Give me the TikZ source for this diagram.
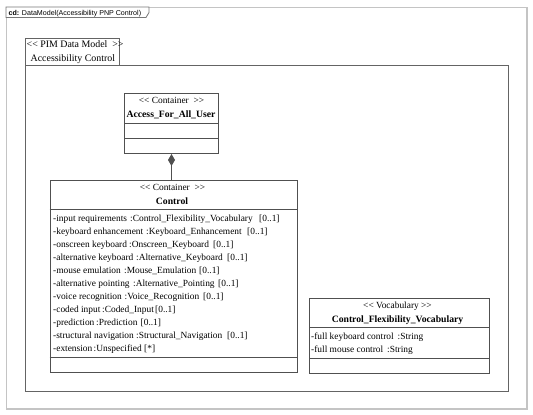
\documentclass[tikz,border=0pt]{standalone}
\usepackage{fontspec}
\setmainfont{Liberation Serif}
\setsansfont{Liberation Sans}
\usetikzlibrary{arrows.meta}
\definecolor{boxgray}{RGB}{80,80,80}
\definecolor{pkggray}{RGB}{100,100,100}
\definecolor{framegray}{RGB}{196,196,196}
\definecolor{tabgray}{RGB}{120,120,120}
\newcommand\stopen{<\kern0pt<}
\newcommand\stclose{>\kern0pt>}
\begin{document}
\begin{tikzpicture}[x=1pt,y=-1pt,
  font=\fontsize{9.4}{11}\selectfont,
  umlbox/.style={draw=boxgray, line width=1pt, inner sep=0pt, fill=white},
  divider/.style={draw=boxgray, line width=1pt},
  txt/.style={inner sep=0pt, anchor=base west},
  ctxt/.style={inner sep=0pt, anchor=base},
  pkgtxt/.style={inner sep=0pt, anchor=base west, font=\fontsize{9.9}{11}\selectfont},
  bold/.style={font=\fontsize{9.7}{11}\selectfont\bfseries}]
\useasboundingbox (0,0) rectangle (533,415);
\fill[white] (0,0) rectangle (533,415);
% diagram frame
\node[draw=framegray, line width=1.2pt, minimum width=520.5pt, minimum height=401.5pt, inner sep=0pt] (frame) at (266.75,208.25) {};
\draw[draw=tabgray, line width=0.8pt, fill=white] (frame.north west) -| (149,12.5) -- (146,17.5) -- (frame.north west |- 0,17.5) -- cycle;
\node[txt, font=\sffamily\fontsize{7.1}{8}\selectfont] (frametitle) at (8.5,15.3) {\textbf{cd:} DataModel(Accessibility PNP Control)};
% package
\node[draw=pkggray, line width=1pt, minimum width=94pt, minimum height=26.5pt, inner sep=0pt] (pkgtab) at (72,51.75) {};
\node[draw=pkggray, line width=1pt, minimum width=483pt, minimum height=326pt, inner sep=0pt] (pkg) at (266.5,228) {};
\node[pkgtxt] (pkgst) at (26.5,47.5) {\stopen{} PIM Data Model \ \stclose};
\node[pkgtxt] (pkgname) at (30.5,61.5) {Accessibility Control};
% Access_For_All_User
\node[umlbox, minimum width=94pt, minimum height=60pt] (afau) at (171.5,123.5) {};
\draw[divider] (afau.west |- 0,123) -- (afau.east |- 0,123);
\draw[divider] (afau.west |- 0,138) -- (afau.east |- 0,138);
\node[ctxt] (afaust) at (171.5,103.7) {\stopen{} Container \ \stclose};
\node[ctxt, bold] (afauname) at (171,117.7) {Access\_For\_All\_User};
% Control
\node[umlbox, minimum width=247pt, minimum height=192pt] (control) at (173.5,276.5) {};
\draw[divider] (control.west |- 0,209) -- (control.east |- 0,209);
\draw[divider] (control.west |- 0,357) -- (control.east |- 0,357);
\node[ctxt] (controlst) at (172.5,190) {\stopen{} Container \ \stclose};
\node[ctxt, bold] (controlname) at (172,204) {Control};
\node[txt] (c1) at (53,221.5) {\makebox[77pt][l]{-input requirements}\makebox[129pt][l]{:Control\_Flexibility\_Vocabulary}[0..1]};
\node[txt] (c2) at (53,234.5) {\makebox[93pt][l]{-keyboard enhancement}\makebox[101pt][l]{:Keyboard\_Enhancement}[0..1]};
\node[txt] (c3) at (53,247.5) {\makebox[76pt][l]{-onscreen keyboard}\makebox[84pt][l]{:Onscreen\_Keyboard}[0..1]};
\node[txt] (c4) at (53,260.5) {\makebox[83pt][l]{-alternative keyboard}\makebox[91pt][l]{:Alternative\_Keyboard}[0..1]};
\node[txt] (c5) at (53,273.5) {\makebox[71pt][l]{-mouse emulation}\makebox[75pt][l]{:Mouse\_Emulation}[0..1]};
\node[txt] (c6) at (53,286.5) {\makebox[80pt][l]{-alternative pointing}\makebox[85pt][l]{:Alternative\_Pointing}[0..1]};
\node[txt] (c7) at (53,299.5) {\makebox[71.5pt][l]{-voice recognition}\makebox[78.5pt][l]{:Voice\_Recognition}[0..1]};
\node[txt] (c8) at (53,312.5) {\makebox[49pt][l]{-coded input}\makebox[53pt][l]{:Coded\_Input}[0..1]};
\node[txt] (c9) at (53,325.5) {\makebox[43pt][l]{-prediction}\makebox[44.5pt][l]{:Prediction}[0..1]};
\node[txt] (c10) at (53,338.5) {\makebox[83pt][l]{-structural navigation}\makebox[91pt][l]{:Structural\_Navigation}[0..1]};
\node[txt] (c11) at (53,351.5) {\makebox[40.5pt][l]{-extension}\makebox[50.5pt][l]{:Unspecified}[*]};
% Control_Flexibility_Vocabulary
\node[umlbox, minimum width=179.5pt, minimum height=74.5pt] (vocab) at (399.25,335.75) {};
\draw[divider] (vocab.west |- 0,327) -- (vocab.east |- 0,327);
\draw[divider] (vocab.west |- 0,358) -- (vocab.east |- 0,358);
\node[ctxt] (vocabst) at (397.5,308) {\stopen{} Vocabulary \stclose};
\node[ctxt, bold] (vocabname) at (397.5,322) {Control\_Flexibility\_Vocabulary};
\node[txt] (v1) at (311,339) {\makebox[86.5pt][l]{-full keyboard control}:String};
\node[txt] (v2) at (311,352) {\makebox[76pt][l]{-full mouse control}:String};
% composition
\draw[boxgray, line width=1pt, {Diamond[length=12pt,width=7pt]}-] (afau.south) -- (afau.south |- control.north);
\end{tikzpicture}
\end{document}
